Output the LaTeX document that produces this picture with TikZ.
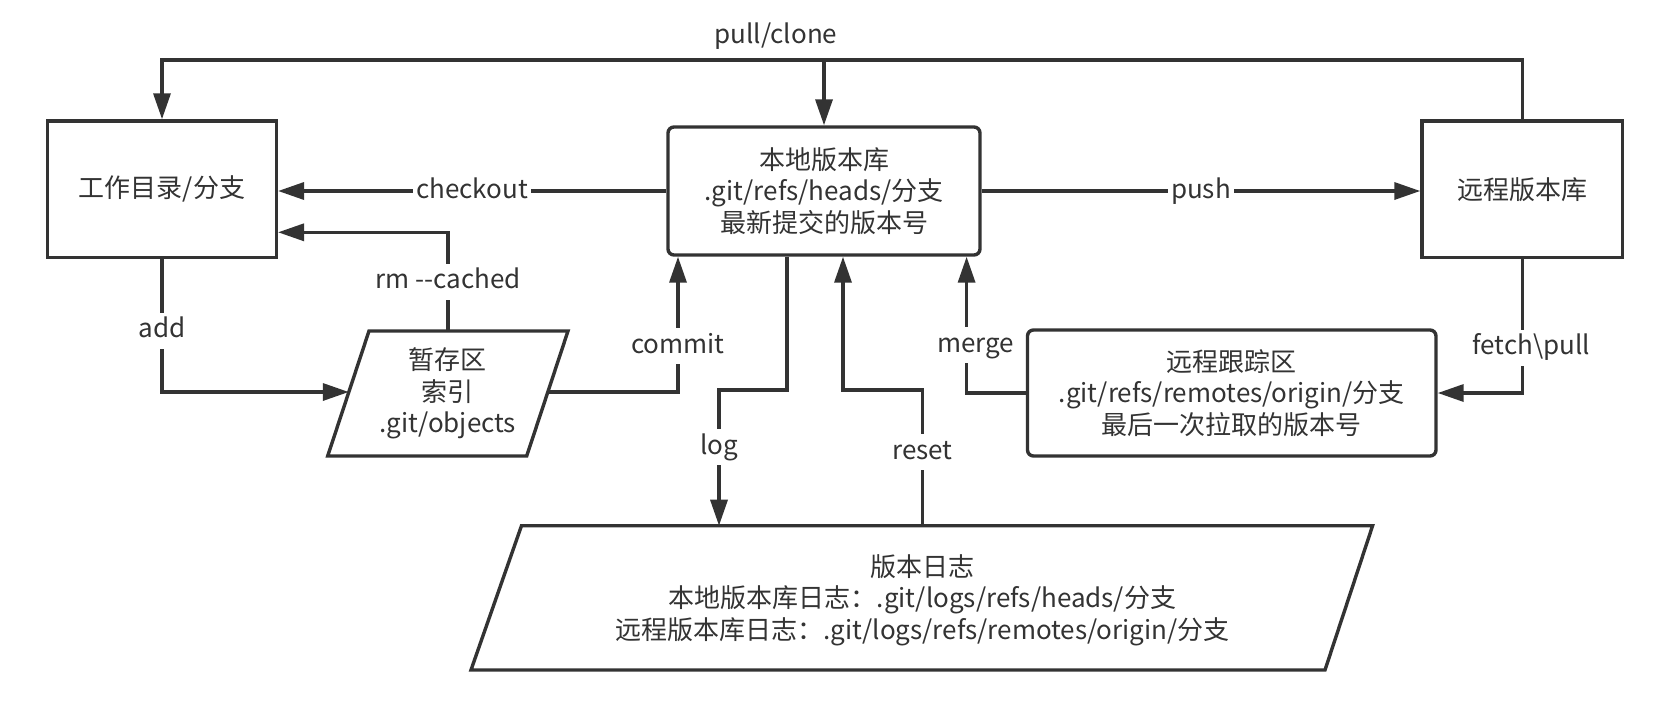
\documentclass[tikz,border=0pt]{standalone}
\usepackage{fontspec}
\setmainfont{Noto Sans CJK SC}
\usetikzlibrary{arrows.meta}
\definecolor{ink}{HTML}{333333}
\begin{document}
\begin{tikzpicture}[x=1pt,y=-1pt,
  every node/.style={font=\fontsize{26pt}{31.5pt}\selectfont, text=ink},
  conn/.style={draw=ink, line width=3.4pt},
  arr/.style={conn, -{Triangle[length=26pt,width=17pt]}},
  lbl/.style={fill=white, inner xsep=3pt, inner ysep=6pt, text height=19pt, text depth=5pt},
  sqbox/.style={draw=ink, line width=3.4pt, align=center},
  rbox/.style={sqbox, rounded corners=6pt},
  txt/.style={align=center},
]
\fill[white] (0,0) rectangle (1660,710);
\useasboundingbox (0,0) rectangle (1660,710);

% boxes
\node[sqbox, minimum width=228.7pt, minimum height=136.7pt] (work) at (162,189.3) {工作目录/分支};
\node[sqbox, minimum width=200.5pt, minimum height=136.7pt] (remote) at (1522.25,189.3) {远程版本库};
\node[rbox, minimum width=312pt, minimum height=128pt] (local) at (824,191) {本地版本库\\.git/refs/heads/分支\\最新提交的版本号};
\node[rbox, minimum width=408.5pt, minimum height=126pt] (track) at (1231.75,393) {远程跟踪区\\.git/refs/remotes/origin/分支\\最后一次拉取的版本号};

% staging parallelogram
\coordinate (s1) at (369,331);
\coordinate (s2) at (568,331);
\coordinate (s3) at (526.7,456);
\coordinate (s4) at (327.7,456);
\draw[conn] (s1) -- (s2) -- (s3) -- (s4) -- cycle;
\node[txt] (stage) at (447.9,393.5) {暂存区\\索引\\.git/objects};
\coordinate (stageL) at (348.8,392);
\coordinate (stageR) at (547.8,392);
\coordinate (stageT) at (448,331);

% log parallelogram
\coordinate (g1) at (521.5,525.7);
\coordinate (g2) at (1372.6,525.7);
\coordinate (g3) at (1325,670);
\coordinate (g4) at (471,670);
\draw[conn] (g1) -- (g2) -- (g3) -- (g4) -- cycle;
\node[txt] (logbox) at (922.5,600) {版本日志\\本地版本库日志：.git/logs/refs/heads/分支\\远程版本库日志：.git/logs/refs/remotes/origin/分支};
\coordinate (logIn) at (719,525.7);
\coordinate (logOut) at (922.6,525.7);

% helpers
\coordinate (topY) at (0,60);
\coordinate (rmY) at (0,232.3);
\coordinate (midY) at (0,390);
\coordinate (xc) at (678,0);
\coordinate (xl) at (787,0);
\coordinate (xr) at (843,0);
\coordinate (xm) at (966.6,0);

% connectors
\draw[arr] (remote.north) |- (work.north |- topY) -- (work.north);
\draw[arr] (local.north |- topY) -- (local.north);
\node (pc) at (776,36) {pull/clone};

\draw[arr] (local.west) -- (work.east |- local.west) node[lbl,midway] {checkout};
\draw[arr] (local.east) -- (remote.west |- local.east) node[lbl,midway] {push};
\draw[arr] (stageT) |- (work.east |- rmY) node[lbl,pos=0.25] {rm -{}-cached};
\draw[arr] (work.south) |- (stageL) node[lbl,pos=0.27] {add};
\draw[arr] (stageR) -| (local.south -| xc) node[lbl,pos=0.67] {commit};
\draw[arr] (local.south -| xl) -- (xl |- midY) -| (logIn) node[lbl,pos=0.71] {log};
\draw[arr] (logOut) |- (xr |- midY) node[lbl,pos=0.27] {reset} -- (local.south -| xr);
\draw[arr] (track.west) -| (local.south -| xm) node[lbl,pos=0.676,xshift=9pt] {merge};
\draw[arr] (remote.south) |- (track.east) node[lbl,pos=0.33,xshift=9pt] {fetch\textbackslash pull};
\end{tikzpicture}
\end{document}
